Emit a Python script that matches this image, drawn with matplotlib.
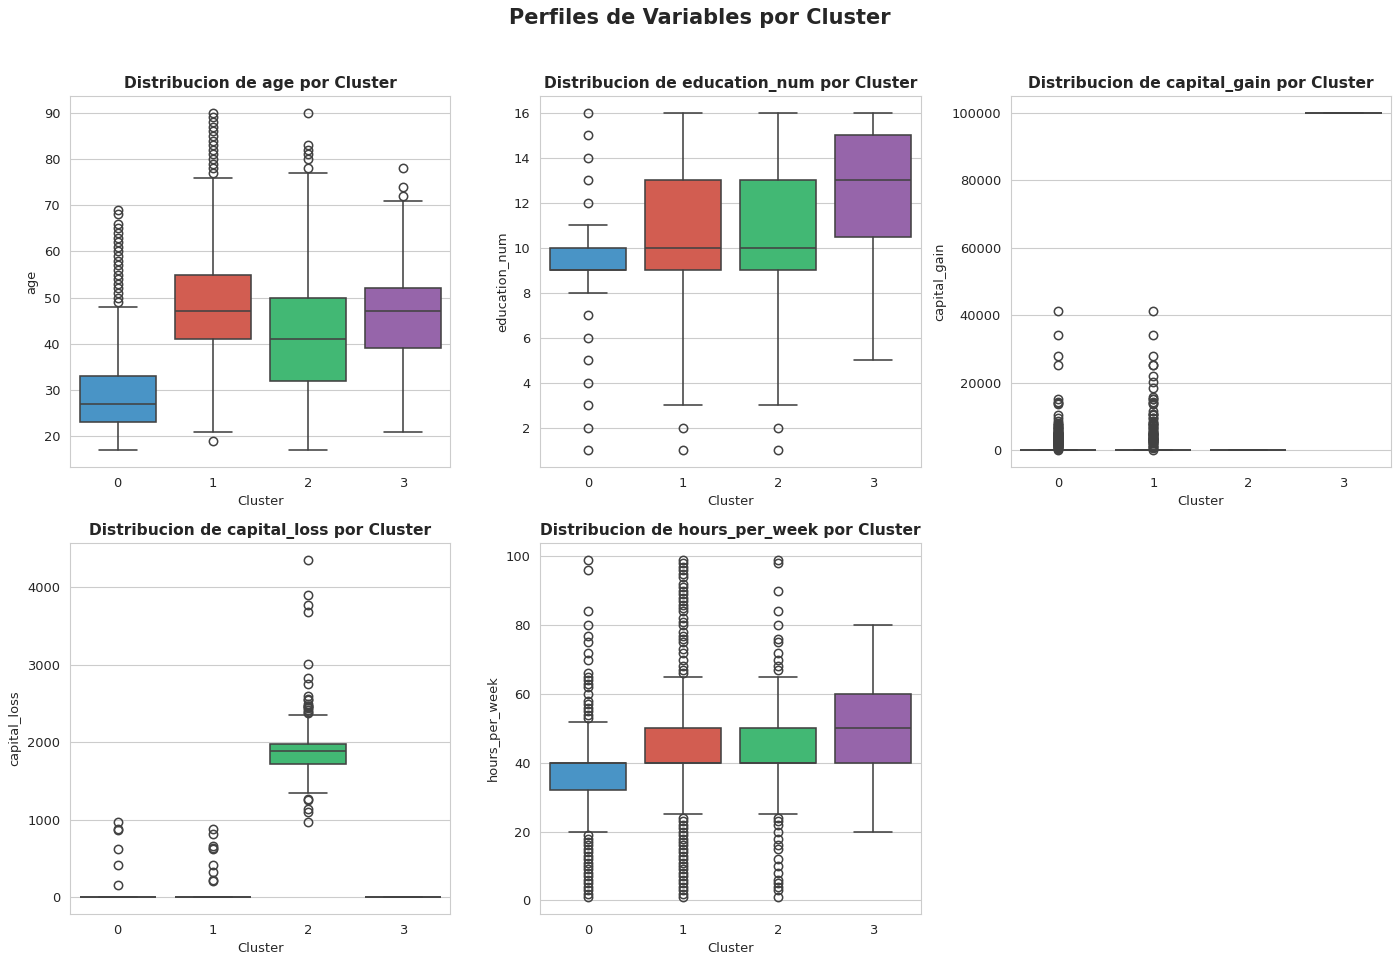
import matplotlib
matplotlib.use("Agg")
import matplotlib.pyplot as plt
import seaborn as sns

sns.set_style("whitegrid")
plt.rcParams['font.family'] = ['DejaVu Sans']

clusters = ["0", "1", "2", "3"]
palette = ["#3498db", "#e74c3c", "#2ecc71", "#9b59b6"]

# ---- age ----
age_med = [27, 47, 41, 47]
age_q1 = [23, 41, 32, 39]
age_q3 = [33, 55, 50, 52]
age_lo = [17, 21, 17, 21]
age_hi = [48, 76, 77, 71]
age_fliers = [
    [49, 50, 51, 52, 53, 54, 55, 56, 57, 58, 59, 60, 61, 62, 63, 64, 65, 66, 68, 69],
    [19, 77, 78, 79, 80, 81, 82, 83, 84, 85, 86, 87, 88, 89, 90],
    [78, 80, 81, 82, 83, 90],
    [72, 74, 78],
]

# ---- education_num ----
edu_med = [9, 10, 10, 13]
edu_q1 = [9, 9, 9, 10.5]
edu_q3 = [10, 13, 13, 15]
edu_lo = [8, 3, 3, 5]
edu_hi = [11, 16, 16, 16]
edu_fliers = [
    [1, 2, 3, 4, 5, 6, 7, 12, 13, 14, 15, 16],
    [1, 2],
    [1, 2],
    [],
]

# ---- capital_gain ----
gain_med = [0, 0, 0, 99999]
gain_q1 = [0, 0, 0, 99999]
gain_q3 = [0, 0, 0, 99999]
gain_lo = [0, 0, 0, 99999]
gain_hi = [0, 0, 0, 99999]
gain_fliers = [
    [114, 401, 594, 914, 991, 1055, 1086, 1151, 1409, 1471, 1506, 1797, 1831,
     2036, 2105, 2174, 2176, 2202, 2228, 2290, 2354, 2407, 2463, 2580, 2597,
     2829, 2885, 2907, 2964, 2977, 3103, 3137, 3325, 3411, 3418, 3456, 3464,
     3674, 3781, 3818, 3887, 3908, 4064, 4101, 4386, 4416, 4508, 4650, 4787,
     4865, 4931, 5013, 5060, 5178, 5455, 5556, 5721, 6097, 6360, 6418, 6497,
     6723, 6849, 7298, 7443, 7688, 7896, 8614, 9386, 10520, 13550, 14084,
     14344, 15024, 25236, 27828, 34095, 41310],
    [114, 594, 914, 1055, 1409, 1506, 2174, 2176, 2354, 2407, 2597, 2829,
     2885, 3103, 3137, 3325, 3411, 3464, 3674, 3818, 3908, 4064, 4386, 4416,
     4650, 4787, 4865, 5013, 5178, 5455, 5556, 6097, 6418, 6514, 6849, 7298,
     7430, 7688, 7896, 7978, 8614, 9386, 9562, 10520, 10566, 10605, 11678,
     13550, 14084, 14344, 15020, 15024, 15831, 18481, 20051, 22040, 25124,
     25236, 27828, 34095, 41310],
    [],
    [],
]

# ---- capital_loss ----
loss_med = [0, 0, 1887, 0]
loss_q1 = [0, 0, 1721, 0]
loss_q3 = [0, 0, 1977, 0]
loss_lo = [0, 0, 1340, 0]
loss_hi = [0, 0, 2352, 0]
loss_fliers = [
    [155, 419, 625, 870, 880, 974],
    [213, 220, 323, 419, 625, 630, 653, 810, 880],
    [974, 1092, 1138, 1258, 1260, 2377, 2392, 2415, 2444, 2457, 2467, 2472,
     2489, 2547, 2559, 2603, 2754, 2824, 3004, 3683, 3770, 3900, 4356],
    [],
]

# ---- hours_per_week ----
hours_med = [40, 40, 40, 50]
hours_q1 = [32, 40, 40, 40]
hours_q3 = [40, 50, 50, 60]
hours_lo = [20, 25, 25, 20]
hours_hi = [52, 65, 65, 80]
hours_fliers = [
    [1, 2, 3, 4, 5, 6, 7, 8, 9, 10, 11, 12, 13, 14, 15, 16, 17, 18, 19,
     53, 54, 55, 56, 57, 58, 60, 62, 63, 64, 65, 66, 70, 72, 75, 77, 80, 84, 96, 99],
    [1, 2, 3, 4, 5, 6, 7, 8, 9, 10, 11, 12, 13, 14, 15, 16, 17, 18, 19, 20,
     21, 22, 23, 24, 66, 67, 68, 70, 72, 73, 75, 76, 77, 78, 80, 81, 82, 84,
     85, 86, 87, 88, 89, 90, 91, 92, 94, 95, 96, 97, 98, 99],
    [1, 3, 4, 5, 6, 8, 10, 12, 15, 16, 18, 20, 22, 23, 24,
     67, 68, 70, 72, 75, 76, 80, 84, 90, 98, 99],
    [],
]

variables = [
    ("age", age_med, age_q1, age_q3, age_lo, age_hi, age_fliers),
    ("education_num", edu_med, edu_q1, edu_q3, edu_lo, edu_hi, edu_fliers),
    ("capital_gain", gain_med, gain_q1, gain_q3, gain_lo, gain_hi, gain_fliers),
    ("capital_loss", loss_med, loss_q1, loss_q3, loss_lo, loss_hi, loss_fliers),
    ("hours_per_week", hours_med, hours_q1, hours_q3, hours_lo, hours_hi, hours_fliers),
]

fig, axes = plt.subplots(2, 3, figsize=(14, 9.64), dpi=100)
fig.subplots_adjust(left=0.05, right=0.9936, top=0.9004, bottom=0.052,
                    wspace=0.237, hspace=0.205)

linecol = "0.26"
fills = [sns.desaturate(c, 0.75) for c in palette]
lw = 1.15

for ax, (name, med, q1, q3, lo, hi, fl) in zip(axes.flat, variables):
    stats = []
    for i in range(4):
        stats.append(dict(med=med[i], q1=q1[i], q3=q3[i], whislo=lo[i],
                          whishi=hi[i], fliers=fl[i], label=clusters[i]))
    bp = ax.bxp(stats, positions=[0, 1, 2, 3], widths=0.8, capwidths=0.4,
                patch_artist=True, showfliers=True, manage_ticks=False,
                boxprops=dict(edgecolor=linecol, linewidth=lw),
                whiskerprops=dict(color=linecol, linewidth=lw),
                capprops=dict(color=linecol, linewidth=lw),
                medianprops=dict(color=linecol, linewidth=lw),
                flierprops=dict(marker="o", markerfacecolor="none",
                                markeredgecolor=linecol, markersize=6,
                                markeredgewidth=1.1, linestyle="none"))
    for patch, c in zip(bp["boxes"], fills):
        patch.set_facecolor(c)
    ax.set_xlim(-0.5, 3.5)
    ax.set_xticks([0, 1, 2, 3])
    ax.set_xticklabels(clusters)
    ax.xaxis.grid(False)
    ax.set_xlabel("Cluster", fontsize=9.4)
    ax.set_ylabel(name, fontsize=9.4)
    ax.tick_params(labelsize=9.4)
    ax.set_title(f"Distribucion de {name} por Cluster", fontsize=11.2,
                 fontweight="bold")

axes[1, 2].remove()
fig.suptitle("Perfiles de Variables por Cluster", fontsize=15,
             fontweight="bold", y=0.992)

fig.savefig("out.png", dpi=100)
